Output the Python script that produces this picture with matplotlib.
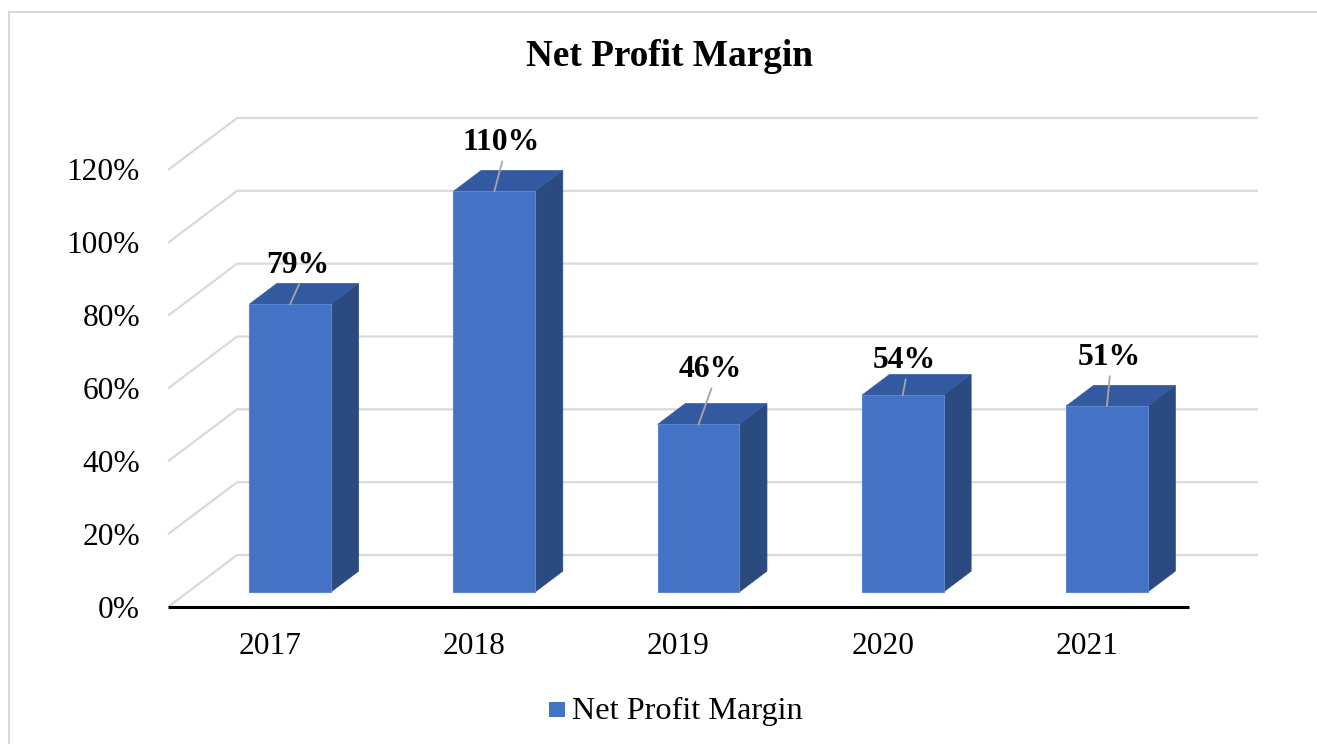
import matplotlib
matplotlib.use("Agg")
import matplotlib.pyplot as plt
from matplotlib.patches import Polygon, Rectangle

# ---- data ----
years = ["2017", "2018", "2019", "2020", "2021"]
margin_pct = [79, 110, 46, 54, 51]
y_ticks = [0, 20, 40, 60, 80, 100, 120]
y_tick_labels = ["0%", "20%", "40%", "60%", "80%", "100%", "120%"]
title = "Net Profit Margin"
series_name = "Net Profit Margin"

# label placement (pixel offsets from bar front-top centre) - styling only
label_offsets = [(8, 42), (7, 52), (12, 58), (2, 38), (2, 52)]

W, H = 1317, 744
fig = plt.figure(figsize=(W / 100, H / 100), dpi=100)
SERIF = ["Liberation Serif", "DejaVu Serif"]
plt.rcParams["font.family"] = SERIF

# oblique depth offset (in data units)
DX = 69 / 204.0
DY = 52 / 3.642
ax = fig.add_axes([168 / W, (H - 607) / H, (1258 - 168) / W, 489 / H])
ax.set_xlim(-0.5, 4.5 + DX)
ax.set_ylim(0, 120 + DY)
ax.axis("off")


def proj(x, y, d):
    return (x + d * DX, y + d * DY)


grid_c = "#D9D9D9"
xmin, xmax = -0.5, len(years) - 0.5
for t, lab in zip(y_ticks, y_tick_labels):
    p0 = proj(xmin, t, 0)
    p1 = proj(xmin, t, 1)
    p2 = proj(xmax, t, 1)
    ax.plot([p0[0], p1[0], p2[0]], [p0[1], p1[1], p2[1]], color=grid_c,
            lw=1.6, zorder=1, solid_capstyle="butt", clip_on=False)
    ax.annotate(lab, xy=p0, xytext=(-28, -3), textcoords="offset pixels",
                ha="right", va="center", fontsize=22.6, color="#000000",
                annotation_clip=False)

# baseline
b0 = proj(xmin, 0, 0)
b1 = proj(xmax, 0, 0)
ax.plot([b0[0], b1[0]], [b0[1], b1[1]], color="#000000", lw=2.2, zorder=5,
        solid_capstyle="butt", clip_on=False)

# bars
front_c = "#4472C4"
top_c = "#3359A0"
side_c = "#2B4A80"
half = 0.2
d0, d1 = 0.29, 0.69
for i, v in enumerate(margin_pct):
    x0, x1 = i - half, i + half
    front = [proj(x0, 0, d0), proj(x1, 0, d0), proj(x1, v, d0), proj(x0, v, d0)]
    top = [proj(x0, v, d0), proj(x1, v, d0), proj(x1, v, d1), proj(x0, v, d1)]
    side = [proj(x1, 0, d0), proj(x1, 0, d1), proj(x1, v, d1), proj(x1, v, d0)]
    ax.add_patch(Polygon(side, closed=True, facecolor=side_c, edgecolor=side_c,
                         lw=0.5, zorder=3))
    ax.add_patch(Polygon(top, closed=True, facecolor=top_c, edgecolor=top_c,
                         lw=0.5, zorder=3))
    ax.add_patch(Polygon(front, closed=True, facecolor=front_c,
                         edgecolor="#5A85D0", lw=0.8, zorder=4))
    # data label with leader line
    anchor = proj(i, v, d0)
    dx, dy = label_offsets[i]
    ax.annotate("", xy=(anchor[0], anchor[1]), xytext=(dx + 1, dy - 22),
                textcoords="offset pixels",
                arrowprops=dict(arrowstyle="-", color="#A6A6A6", lw=1.3,
                                shrinkA=0, shrinkB=0),
                zorder=6, annotation_clip=False)
    ax.annotate(f"{v}%", xy=anchor, xytext=(dx, dy - 3), textcoords="offset pixels",
                ha="center", va="center", fontsize=22.8, fontweight="bold",
                color="#000000", zorder=7, annotation_clip=False)
    # category label
    ax.annotate(years[i], xy=(i, 0), xytext=(0, -40), textcoords="offset pixels",
                ha="center", va="center", fontsize=22.6, color="#000000",
                annotation_clip=False)

# title
fig.text(670 / W, 1 - 57 / H, title, ha="center", va="center", fontsize=26.8,
         fontweight="bold", color="#000000")

# legend
fig.add_artist(Rectangle((549 / W, 1 - 717 / H), 16 / W, 15 / H,
                         transform=fig.transFigure, facecolor=front_c,
                         edgecolor="none"))
fig.text(572 / W, 1 - 711 / H, series_name, ha="left", va="center",
         fontsize=23.2, color="#000000")

# chart border
fig.add_artist(Rectangle((9 / W, -0.05), 1.2, 1 - 12 / H + 0.05,
                         transform=fig.transFigure, fill=False,
                         edgecolor="#D9D9D9", lw=1.5))

fig.savefig("out.png", dpi=100, facecolor="white")
